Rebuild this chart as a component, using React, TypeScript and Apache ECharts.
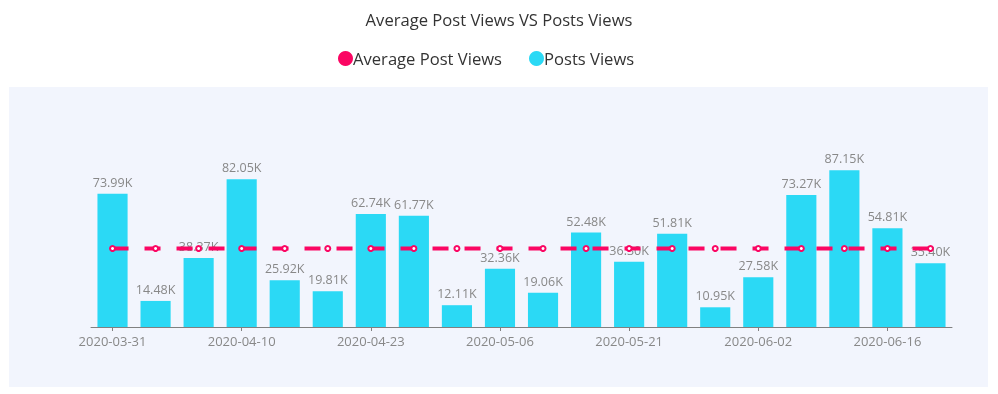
import React, { useEffect, useRef } from "react";
import * as echarts from "echarts";

const categories = [
  "2020-03-31", "2020-04-03", "2020-04-07", "2020-04-10", "2020-04-14",
  "2020-04-17", "2020-04-23", "2020-04-27", "2020-04-30", "2020-05-06",
  "2020-05-11", "2020-05-15", "2020-05-21", "2020-05-25", "2020-05-28",
  "2020-06-02", "2020-06-05", "2020-06-10", "2020-06-16", "2020-06-19",
];

const postsViews = [
  73990, 14480, 38370, 82050, 25920, 19810, 62740, 61770, 12110, 32360,
  19060, 52480, 36300, 51810, 10950, 27580, 73270, 87150, 54810, 35400,
];

const averageViews = [
  43650, 43650, 43650, 43650, 43650, 43650, 43650, 43650, 43650, 43650,
  43650, 43650, 43650, 43650, 43650, 43650, 43650, 43650, 43650, 43650,
];

const FONT = "'Open Sans', sans-serif";
const PINK = "#fb0663";
const CYAN = "#2bd9f5";

export default function App() {
  const ref = useRef<HTMLDivElement>(null);
  useEffect(() => {
    if (!ref.current) return;
    const chart = echarts.init(ref.current, undefined, { renderer: "svg" });
    chart.setOption({
      animation: false,
      textStyle: { fontFamily: FONT },
      graphic: [
        {
          type: "rect",
          shape: { x: 9, y: 87, width: 979, height: 300 },
          style: { fill: "#f2f5fd" },
          z: -10,
          silent: true,
        },
      ],
      title: {
        text: "Average Post Views VS Posts Views",
        left: "center",
        top: 6,
        textStyle: { fontFamily: FONT, fontSize: 16.6, fontWeight: "normal", color: "#333" },
      },
      legend: {
        data: ["Average Post Views", "Posts Views"],
        left: 338,
        top: 50,
        padding: 0,
        icon: "circle",
        itemWidth: 15,
        itemHeight: 15,
        itemGap: 27,
        textStyle: { fontFamily: FONT, fontSize: 16.6, color: "#333", padding: [0, 0, 0, -5] },
      },
      grid: { left: 91, right: 46, top: 147, bottom: 67 },
      xAxis: {
        type: "category",
        data: categories,
        boundaryGap: true,
        axisLine: { lineStyle: { color: "#808080" } },
        axisTick: { show: true, alignWithLabel: true, interval: 2, length: 4, lineStyle: { color: "#808080" } },
        axisLabel: { interval: 2, color: "#888", fontSize: 13, fontFamily: FONT, margin: 7 },
      },
      yAxis: {
        type: "value",
        min: 0,
        max: 100000,
        show: false,
        splitLine: { show: false },
      },
      series: [
        {
          name: "Posts Views",
          type: "bar",
          data: postsViews,
          barWidth: "70%",
          itemStyle: { color: CYAN },
          label: {
            show: true,
            position: "top",
            color: "#888",
            fontSize: 12.5,
            fontFamily: FONT,
            formatter: (p: any) => (p.value / 1000).toFixed(2) + "K",
          },
          z: 2,
        },
        {
          name: "Average Post Views",
          type: "line",
          data: averageViews,
          symbol: "emptyCircle",
          symbolSize: 5,
          itemStyle: { color: PINK, borderWidth: 1 },
          lineStyle: { color: PINK, width: 4, type: [16, 16] },
          z: 5,
        },
      ],
    });
    return () => chart.dispose();
  }, []);
  return (
    <div
      ref={ref}
      style={{ position: "fixed", left: 0, top: 0, width: 998, height: 394 }}
    />
  );
}
